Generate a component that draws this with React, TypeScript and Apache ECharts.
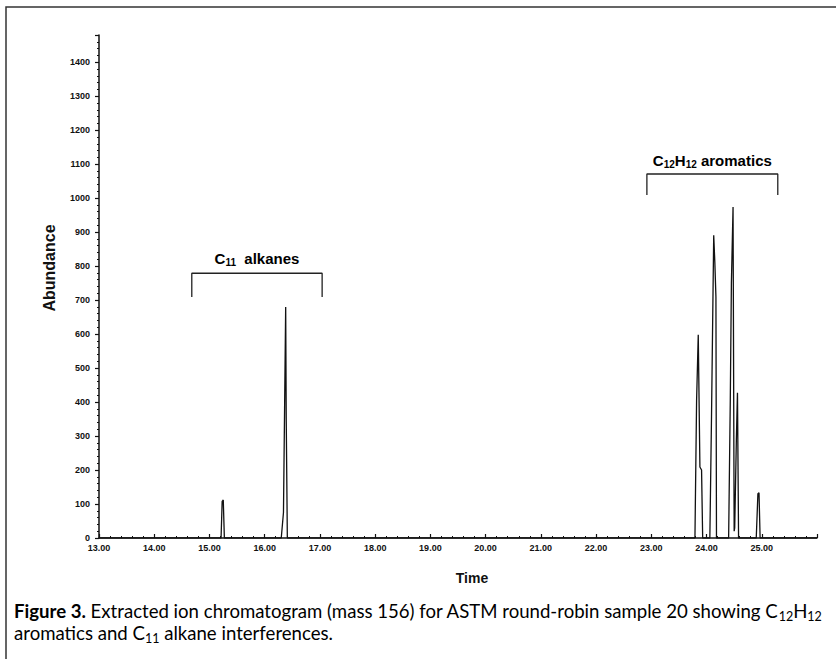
import React, { useEffect, useRef } from "react";
import * as echarts from "echarts";

// Retention time (min) and abundance of the mass-156 trace
const times = [
  13.0, 15.21, 15.23, 15.25, 15.27,
  16.3, 16.34, 16.38, 16.39, 16.41,
  23.79, 23.82, 23.85, 23.88, 23.91, 23.93,
  24.06, 24.09, 24.13, 24.15, 24.17, 24.18,
  24.4, 24.43, 24.45, 24.48, 24.5,
  24.51, 24.54, 24.56, 24.58,
  24.9, 24.93, 24.95, 24.97,
  26.0,
];
const abundance = [
  0, 0, 108, 112, 0,
  0, 75, 680, 350, 0,
  0, 406, 598, 209, 200, 0,
  0, 357, 891, 812, 710, 0,
  0, 406, 750, 974, 20,
  30, 289, 427, 0,
  0, 130, 133, 0,
  0,
];

// Annotation brackets (time, abundance)
const alkaneBracketX = [14.68, 14.68, 17.04, 17.04];
const alkaneBracketY = [709, 779, 779, 709];
const aromaticBracketX = [22.92, 22.92, 25.29, 25.29];
const aromaticBracketY = [1009, 1071, 1071, 1009];

const xMin = 13;
const xMax = 26;
const yMin = 0;
const yMax = 1480;

const zip = (a: number[], b: number[]) => a.map((v, i) => [v, b[i]]);

export default function App() {
  const ref = useRef<HTMLDivElement>(null);
  useEffect(() => {
    const chart = echarts.init(ref.current!, null, { renderer: "svg" });
    const tickFont = {
      fontSize: 9,
      fontWeight: "bold",
      fontFamily: "'Liberation Sans Narrow', 'Liberation Sans', Arial, sans-serif",
      color: "#111",
    };
    chart.setOption({
      animation: false,
      backgroundColor: "#fff",
      grid: { left: 99, right: 19, top: 35, bottom: 121, containLabel: false },
      xAxis: {
        type: "value",
        min: xMin,
        max: xMax,
        interval: 1,
        axisLine: { lineStyle: { color: "#111", width: 1.5 } },
        axisTick: { inside: true, length: 4, lineStyle: { color: "#111", width: 1.2 } },
        minorTick: { show: true, splitNumber: 5, length: 2, lineStyle: { color: "#111", width: 1 } },
        splitLine: { show: false },
        axisLabel: {
          ...tickFont,
          margin: 5,
          showMaxLabel: false,
          formatter: (v: number) => v.toFixed(2),
        },
      },
      yAxis: {
        type: "value",
        min: yMin,
        max: yMax,
        interval: 100,
        axisLine: { show: true, lineStyle: { color: "#111", width: 1.5 } },
        axisTick: { show: true, length: 4, lineStyle: { color: "#111", width: 1.2 } },
        minorTick: { show: true, splitNumber: 5, length: 2, lineStyle: { color: "#111", width: 1 } },
        splitLine: { show: false },
        axisLabel: {
          ...tickFont,
          margin: 9,
          showMaxLabel: false,
          formatter: (v: number) => String(v),
        },
      },
      series: [
        {
          type: "line",
          data: zip(times, abundance),
          symbol: "none",
          lineStyle: { color: "#111", width: 1.3 },
          z: 3,
        },
        {
          type: "line",
          data: zip(alkaneBracketX, alkaneBracketY),
          symbol: "none",
          lineStyle: { color: "#222", width: 1.3 },
        },
        {
          type: "line",
          data: zip(aromaticBracketX, aromaticBracketY),
          symbol: "none",
          lineStyle: { color: "#222", width: 1.3 },
        },
      ],
    });

    const alk = chart.convertToPixel({ gridIndex: 0 }, [
      (alkaneBracketX[0] + alkaneBracketX[2]) / 2,
      alkaneBracketY[1],
    ]) as number[];
    const aro = chart.convertToPixel({ gridIndex: 0 }, [
      (aromaticBracketX[0] + aromaticBracketX[2]) / 2,
      aromaticBracketY[1],
    ]) as number[];

    const annFont = "'Liberation Sans', Arial, sans-serif";
    const annRich = {
      m: { fontSize: 15, fontWeight: "bold", fontFamily: annFont, color: "#111", lineHeight: 18 },
      s: { fontSize: 10, fontWeight: "bold", fontFamily: annFont, color: "#111", lineHeight: 10, padding: [9, 0, 0, 0] },
    };
    const capFont = "Lato, 'Open Sans', sans-serif";
    const capRich = {
      b: { fontSize: 18.6, fontWeight: "bold", fontFamily: capFont, color: "#111", lineHeight: 22 },
      n: { fontSize: 18.6, fontFamily: capFont, color: "#111", lineHeight: 22 },
      s: { fontSize: 12.5, fontFamily: capFont, color: "#111", lineHeight: 14, padding: [10, 0, 0, 0] },
    };

    chart.setOption({
      graphic: [
        {
          type: "rect",
          shape: { x: 6, y: 7, width: 860, height: 700 },
          style: { fill: "none", stroke: "#333", lineWidth: 1.5 },
          silent: true,
        },
        {
          type: "text",
          x: alk[0],
          y: alk[1] - 6,
          style: {
            text: "{m|C}{s|11}{m|  alkanes}",
            rich: annRich,
            align: "center",
            verticalAlign: "bottom",
          },
        },
        {
          type: "text",
          x: aro[0],
          y: aro[1] - 5,
          style: {
            text: "{m|C}{s|12}{m|H}{s|12}{m| aromatics}",
            rich: annRich,
            align: "center",
            verticalAlign: "bottom",
          },
        },
        {
          type: "text",
          x: 49,
          y: 268,
          rotation: Math.PI / 2,
          style: {
            text: "Abundance",
            fontSize: 16,
            fontWeight: "bold",
            fontFamily: annFont,
            fill: "#111",
            align: "center",
            verticalAlign: "middle",
          },
        },
        {
          type: "text",
          x: 472,
          y: 578,
          style: {
            text: "Time",
            fontSize: 14,
            fontWeight: "bold",
            fontFamily: annFont,
            fill: "#111",
            align: "center",
            verticalAlign: "middle",
          },
        },
        {
          type: "text",
          x: 14,
          y: 622,
          style: {
            text:
              "{b|Figure 3.}{n| Extracted ion chromatogram (mass 156) for ASTM round-robin sample 20 showing C}{s|12}{n|H}{s|12}",
            rich: capRich,
            align: "left",
            verticalAlign: "bottom",
          },
        },
        {
          type: "text",
          x: 14,
          y: 644,
          style: {
            text: "{n|aromatics and C}{s|11}{n| alkane interferences.}",
            rich: capRich,
            align: "left",
            verticalAlign: "bottom",
          },
        },
      ],
    });
    return () => chart.dispose();
  }, []);
  return (
    <div
      ref={ref}
      style={{ position: "absolute", left: 0, top: 0, width: 836, height: 659, background: "#fff" }}
    />
  );
}
